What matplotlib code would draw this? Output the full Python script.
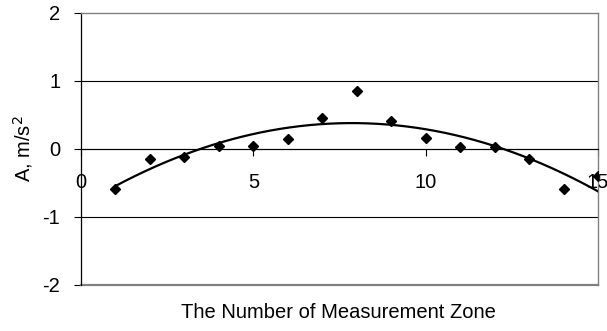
import numpy as np
import matplotlib
matplotlib.use('Agg')
import matplotlib.pyplot as plt

plt.rcParams['font.family'] = ['Liberation Sans', 'DejaVu Sans']
plt.rcParams['axes.unicode_minus'] = False

# measured acceleration per zone
zone = [1, 2, 3, 4, 5, 6, 7, 8, 9, 10, 11, 12, 13, 14, 15]
accel = [-0.59, -0.14, -0.12, 0.04, 0.04, 0.15, 0.46, 0.86, 0.41, 0.16, 0.03, 0.03, -0.14, -0.59, -0.40]

x_ticks = [0, 5, 10, 15]
y_ticks = [-2, -1, 0, 1, 2]

fig = plt.figure(figsize=(6.07, 3.31), dpi=100)
ax = fig.add_axes([81/607, 1 - 285/331, 517/607, 272/331])

# gridlines
for yv in [-1, 0, 1]:
    ax.axhline(yv, color='black', lw=0.8, zorder=1)

# polynomial trendline (2nd order) fitted to the points
coef = np.polyfit(zone, accel, 2)
xs = np.linspace(zone[0], zone[-1], 200)
ax.plot(xs, np.polyval(coef, xs), color='black', lw=1.6, zorder=3)

ax.plot(zone, accel, linestyle='none', marker='D', markersize=5.5,
        color='black', zorder=4)

ax.set_xlim(0, 15)
ax.set_ylim(-2, 2)

ax.spines['bottom'].set_position(('data', 0))
ax.spines['bottom'].set_color('black')
ax.spines['bottom'].set_linewidth(0.8)
ax.spines['left'].set_color('black')
ax.spines['left'].set_linewidth(0.9)
for s in ['top', 'right']:
    ax.spines[s].set_color('#808080')
    ax.spines[s].set_linewidth(1.0)
ax.axhline(-2, color='#808080', lw=1.6, zorder=2, clip_on=False)

ax.set_xticks(x_ticks)
ax.set_yticks(y_ticks)
ax.tick_params(axis='x', direction='out', length=5, width=0.8, pad=12, labelsize=14.5)
ax.tick_params(axis='y', direction='out', length=5, width=0.8, pad=10, labelsize=14.5)

ax.set_ylabel('A, m/s$^2$', fontsize=14.5, labelpad=5)
fig.text(338/607, 1 - 313/331, 'The Number of Measurement Zone',
         ha='center', va='center', fontsize=14.5)

fig.savefig('out.png', dpi=100)
